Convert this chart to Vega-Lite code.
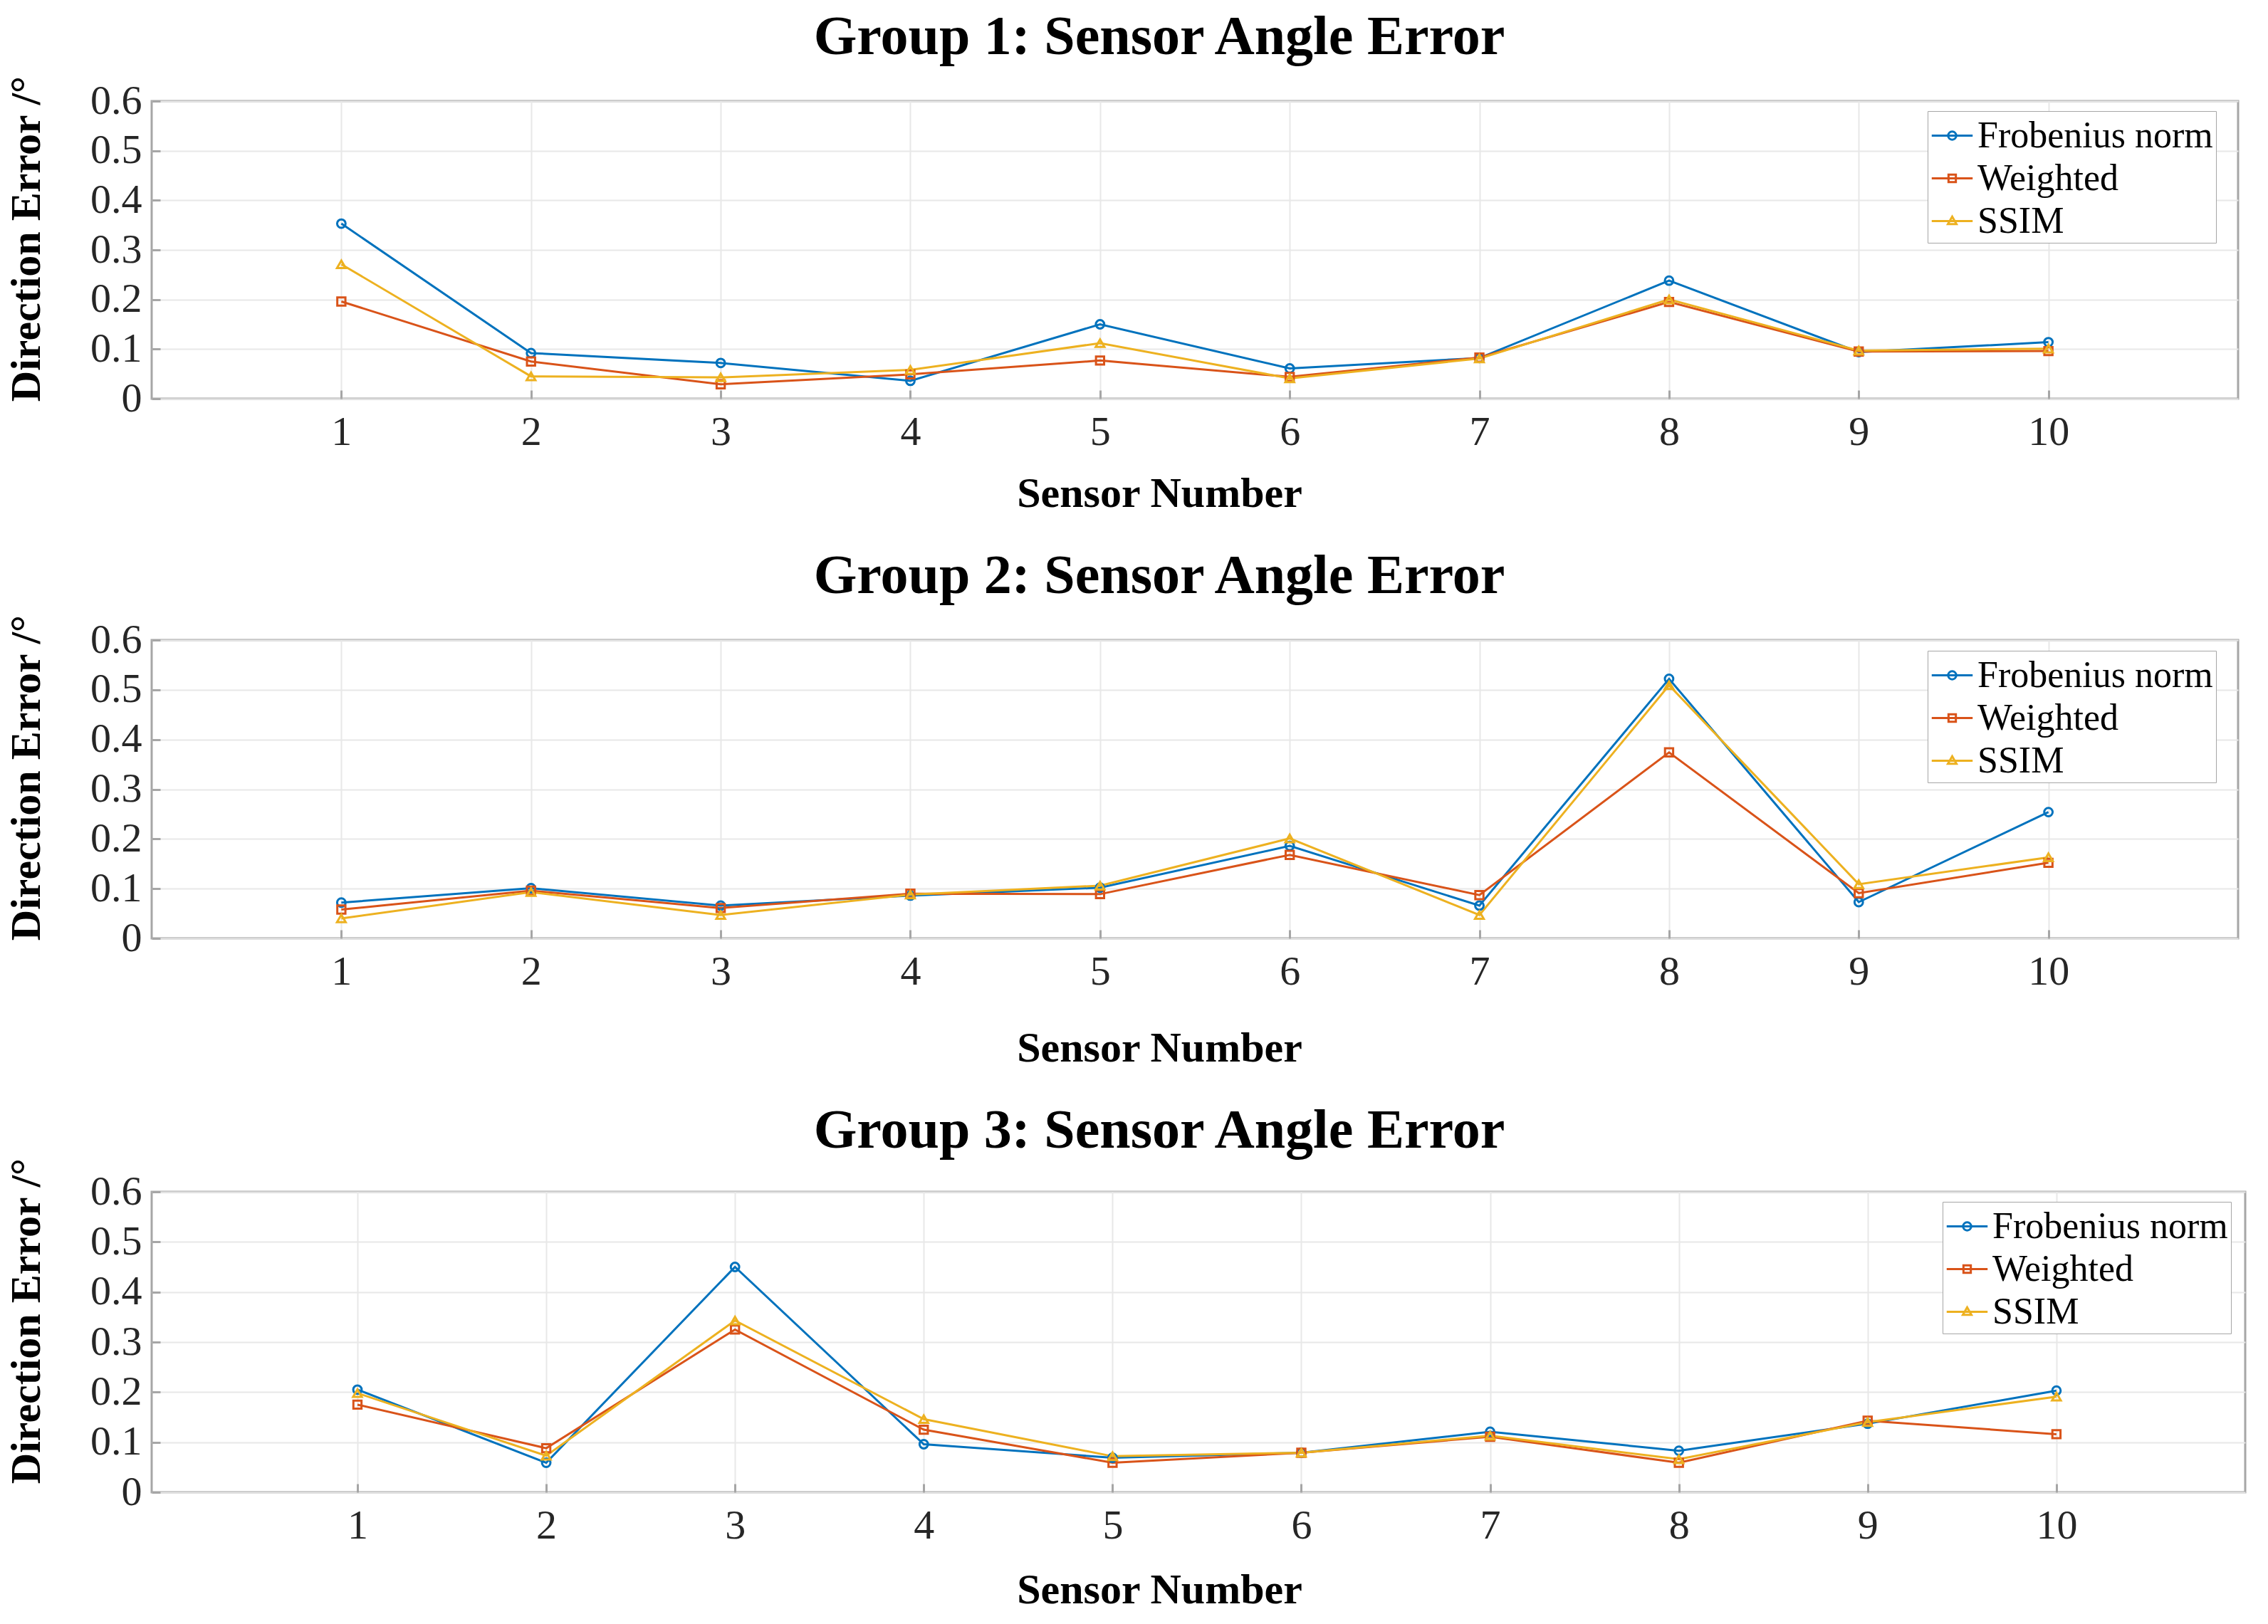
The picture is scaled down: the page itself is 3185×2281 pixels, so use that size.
{
  "$schema": "https://vega.github.io/schema/vega-lite/v6.json",
  "background": "white",
  "padding": {"left": 6, "top": 12, "right": 10, "bottom": 10},
  "spacing": 44,
  "config": {
    "view": {"stroke": "#a6a6a6", "strokeWidth": 3},
    "font": "Liberation Serif",
    "title": {"font": "Liberation Serif", "fontSize": 78, "fontWeight": "bold", "color": "black", "anchor": "middle", "baseline": "bottom"},
    "axis": {"labelFont": "Liberation Serif", "labelFontSize": 58, "labelColor": "#262626", "titleFont": "Liberation Serif", "titleFontSize": 60, "titleFontWeight": "bold", "titleColor": "black", "gridColor": "#e8e8e8", "gridWidth": 2, "domain": false, "tickColor": "#a6a6a6", "tickWidth": 3, "tickSize": -12},
    "legend": {"labelFont": "Liberation Serif", "labelFontSize": 52, "labelColor": "black", "labelLimit": 800, "labelOffset": 5, "symbolSize": 3300, "symbolStrokeWidth": 3, "padding": 4, "rowPadding": 3, "strokeColor": "#a6a6a6", "fillColor": "white"}
  },
  "datasets": {
    "d": [
      {"group": 1, "sensor": 1, "method": "Frobenius norm", "error": 0.353},
      {"group": 1, "sensor": 2, "method": "Frobenius norm", "error": 0.092},
      {"group": 1, "sensor": 3, "method": "Frobenius norm", "error": 0.072},
      {"group": 1, "sensor": 4, "method": "Frobenius norm", "error": 0.036},
      {"group": 1, "sensor": 5, "method": "Frobenius norm", "error": 0.150},
      {"group": 1, "sensor": 6, "method": "Frobenius norm", "error": 0.061},
      {"group": 1, "sensor": 7, "method": "Frobenius norm", "error": 0.082},
      {"group": 1, "sensor": 8, "method": "Frobenius norm", "error": 0.238},
      {"group": 1, "sensor": 9, "method": "Frobenius norm", "error": 0.094},
      {"group": 1, "sensor": 10, "method": "Frobenius norm", "error": 0.114},
      {"group": 1, "sensor": 1, "method": "Weighted", "error": 0.196},
      {"group": 1, "sensor": 2, "method": "Weighted", "error": 0.075},
      {"group": 1, "sensor": 3, "method": "Weighted", "error": 0.029},
      {"group": 1, "sensor": 4, "method": "Weighted", "error": 0.049},
      {"group": 1, "sensor": 5, "method": "Weighted", "error": 0.077},
      {"group": 1, "sensor": 6, "method": "Weighted", "error": 0.044},
      {"group": 1, "sensor": 7, "method": "Weighted", "error": 0.083},
      {"group": 1, "sensor": 8, "method": "Weighted", "error": 0.195},
      {"group": 1, "sensor": 9, "method": "Weighted", "error": 0.095},
      {"group": 1, "sensor": 10, "method": "Weighted", "error": 0.096},
      {"group": 1, "sensor": 1, "method": "SSIM", "error": 0.271},
      {"group": 1, "sensor": 2, "method": "SSIM", "error": 0.045},
      {"group": 1, "sensor": 3, "method": "SSIM", "error": 0.043},
      {"group": 1, "sensor": 4, "method": "SSIM", "error": 0.058},
      {"group": 1, "sensor": 5, "method": "SSIM", "error": 0.112},
      {"group": 1, "sensor": 6, "method": "SSIM", "error": 0.041},
      {"group": 1, "sensor": 7, "method": "SSIM", "error": 0.081},
      {"group": 1, "sensor": 8, "method": "SSIM", "error": 0.200},
      {"group": 1, "sensor": 9, "method": "SSIM", "error": 0.097},
      {"group": 1, "sensor": 10, "method": "SSIM", "error": 0.101},
      {"group": 2, "sensor": 1, "method": "Frobenius norm", "error": 0.072},
      {"group": 2, "sensor": 2, "method": "Frobenius norm", "error": 0.101},
      {"group": 2, "sensor": 3, "method": "Frobenius norm", "error": 0.066},
      {"group": 2, "sensor": 4, "method": "Frobenius norm", "error": 0.086},
      {"group": 2, "sensor": 5, "method": "Frobenius norm", "error": 0.102},
      {"group": 2, "sensor": 6, "method": "Frobenius norm", "error": 0.186},
      {"group": 2, "sensor": 7, "method": "Frobenius norm", "error": 0.066},
      {"group": 2, "sensor": 8, "method": "Frobenius norm", "error": 0.522},
      {"group": 2, "sensor": 9, "method": "Frobenius norm", "error": 0.073},
      {"group": 2, "sensor": 10, "method": "Frobenius norm", "error": 0.254},
      {"group": 2, "sensor": 1, "method": "Weighted", "error": 0.058},
      {"group": 2, "sensor": 2, "method": "Weighted", "error": 0.096},
      {"group": 2, "sensor": 3, "method": "Weighted", "error": 0.061},
      {"group": 2, "sensor": 4, "method": "Weighted", "error": 0.090},
      {"group": 2, "sensor": 5, "method": "Weighted", "error": 0.089},
      {"group": 2, "sensor": 6, "method": "Weighted", "error": 0.168},
      {"group": 2, "sensor": 7, "method": "Weighted", "error": 0.087},
      {"group": 2, "sensor": 8, "method": "Weighted", "error": 0.374},
      {"group": 2, "sensor": 9, "method": "Weighted", "error": 0.091},
      {"group": 2, "sensor": 10, "method": "Weighted", "error": 0.152},
      {"group": 2, "sensor": 1, "method": "SSIM", "error": 0.040},
      {"group": 2, "sensor": 2, "method": "SSIM", "error": 0.093},
      {"group": 2, "sensor": 3, "method": "SSIM", "error": 0.047},
      {"group": 2, "sensor": 4, "method": "SSIM", "error": 0.088},
      {"group": 2, "sensor": 5, "method": "SSIM", "error": 0.106},
      {"group": 2, "sensor": 6, "method": "SSIM", "error": 0.201},
      {"group": 2, "sensor": 7, "method": "SSIM", "error": 0.047},
      {"group": 2, "sensor": 8, "method": "SSIM", "error": 0.509},
      {"group": 2, "sensor": 9, "method": "SSIM", "error": 0.109},
      {"group": 2, "sensor": 10, "method": "SSIM", "error": 0.163},
      {"group": 3, "sensor": 1, "method": "Frobenius norm", "error": 0.205},
      {"group": 3, "sensor": 2, "method": "Frobenius norm", "error": 0.059},
      {"group": 3, "sensor": 3, "method": "Frobenius norm", "error": 0.450},
      {"group": 3, "sensor": 4, "method": "Frobenius norm", "error": 0.096},
      {"group": 3, "sensor": 5, "method": "Frobenius norm", "error": 0.069},
      {"group": 3, "sensor": 6, "method": "Frobenius norm", "error": 0.079},
      {"group": 3, "sensor": 7, "method": "Frobenius norm", "error": 0.121},
      {"group": 3, "sensor": 8, "method": "Frobenius norm", "error": 0.083},
      {"group": 3, "sensor": 9, "method": "Frobenius norm", "error": 0.137},
      {"group": 3, "sensor": 10, "method": "Frobenius norm", "error": 0.203},
      {"group": 3, "sensor": 1, "method": "Weighted", "error": 0.175},
      {"group": 3, "sensor": 2, "method": "Weighted", "error": 0.088},
      {"group": 3, "sensor": 3, "method": "Weighted", "error": 0.325},
      {"group": 3, "sensor": 4, "method": "Weighted", "error": 0.125},
      {"group": 3, "sensor": 5, "method": "Weighted", "error": 0.059},
      {"group": 3, "sensor": 6, "method": "Weighted", "error": 0.079},
      {"group": 3, "sensor": 7, "method": "Weighted", "error": 0.111},
      {"group": 3, "sensor": 8, "method": "Weighted", "error": 0.059},
      {"group": 3, "sensor": 9, "method": "Weighted", "error": 0.143},
      {"group": 3, "sensor": 10, "method": "Weighted", "error": 0.116},
      {"group": 3, "sensor": 1, "method": "SSIM", "error": 0.198},
      {"group": 3, "sensor": 2, "method": "SSIM", "error": 0.073},
      {"group": 3, "sensor": 3, "method": "SSIM", "error": 0.343},
      {"group": 3, "sensor": 4, "method": "SSIM", "error": 0.146},
      {"group": 3, "sensor": 5, "method": "SSIM", "error": 0.072},
      {"group": 3, "sensor": 6, "method": "SSIM", "error": 0.079},
      {"group": 3, "sensor": 7, "method": "SSIM", "error": 0.113},
      {"group": 3, "sensor": 8, "method": "SSIM", "error": 0.066},
      {"group": 3, "sensor": 9, "method": "SSIM", "error": 0.140},
      {"group": 3, "sensor": 10, "method": "SSIM", "error": 0.191}
    ]
  },
  "data": {"name": "d"},
  "vconcat": [
    {
      "title": {"text": "Group 1: Sensor Angle Error", "dx": -50, "offset": 14},
      "width": 2930, "height": 418,
      "transform": [{"filter": {"field": "group", "equal": 1}}],
      "encoding": {
        "x": {"field": "sensor", "type": "quantitative", "scale": {"domain": [0, 11], "nice": false}, "axis": {"values": [1,2,3,4,5,6,7,8,9,10], "title": "Sensor Number", "labelPadding": 30, "titlePadding": 28, "titleX": 1415}},
        "y": {"field": "error", "type": "quantitative", "scale": {"domain": [0, 0.6], "nice": false}, "axis": {"values": [0,0.1,0.2,0.3,0.4,0.5,0.6], "format": ".1~f", "title": "Direction Error /°", "labelPadding": 26, "titlePadding": 58, "titleY": 193}},
        "color": {"field": "method", "type": "nominal", "scale": {"domain": ["Frobenius norm", "Weighted", "SSIM"], "range": ["#0072BD", "#D95319", "#EDB120"]}, "legend": {"title": null, "orient": "none", "legendX": 2494, "legendY": 14}}
      },
      "layer": [
        {"mark": {"type": "line", "strokeWidth": 3}},
        {"transform": [{"filter": {"field": "method", "equal": "Frobenius norm"}}], "mark": {"type": "point", "shape": "circle", "size": 140, "strokeWidth": 3, "filled": false, "opacity": 1}},
        {"transform": [{"filter": {"field": "method", "equal": "Weighted"}}], "mark": {"type": "point", "shape": "square", "size": 130, "strokeWidth": 3, "filled": false, "opacity": 1}},
        {"transform": [{"filter": {"field": "method", "equal": "SSIM"}}], "mark": {"type": "point", "shape": "triangle-up", "size": 150, "strokeWidth": 3, "filled": false, "opacity": 1}},
        {"transform": [{"filter": "datum.sensor > 100"}], "mark": {"type": "point", "filled": false, "opacity": 1, "strokeWidth": 3},
         "encoding": {"shape": {"field": "method", "type": "nominal", "scale": {"domain": ["Frobenius norm", "Weighted", "SSIM"], "range": ["M-1,0H1M0.2,0A0.2,0.2,0,1,1,-0.2,0A0.2,0.2,0,1,1,0.2,0Z", "M-1,0H1M-0.18,-0.18H0.18V0.18H-0.18Z", "M-1,0H1M0,-0.22L0.21,0.15H-0.21Z"]}, "legend": {"title": null, "orient": "none", "legendX": 2494, "legendY": 14}}}}
      ]
    },
    {
      "title": {"text": "Group 2: Sensor Angle Error", "dx": -50, "offset": 14},
      "width": 2930, "height": 419,
      "transform": [{"filter": {"field": "group", "equal": 2}}],
      "encoding": {
        "x": {"field": "sensor", "type": "quantitative", "scale": {"domain": [0, 11], "nice": false}, "axis": {"values": [1,2,3,4,5,6,7,8,9,10], "title": "Sensor Number", "labelPadding": 30, "titlePadding": 49, "titleX": 1415}},
        "y": {"field": "error", "type": "quantitative", "scale": {"domain": [0, 0.6], "nice": false}, "axis": {"values": [0,0.1,0.2,0.3,0.4,0.5,0.6], "format": ".1~f", "title": "Direction Error /°", "labelPadding": 26, "titlePadding": 58, "titleY": 193}},
        "color": {"field": "method", "type": "nominal", "scale": {"domain": ["Frobenius norm", "Weighted", "SSIM"], "range": ["#0072BD", "#D95319", "#EDB120"]}, "legend": {"title": null, "orient": "none", "legendX": 2494, "legendY": 15}}
      },
      "layer": [
        {"mark": {"type": "line", "strokeWidth": 3}},
        {"transform": [{"filter": {"field": "method", "equal": "Frobenius norm"}}], "mark": {"type": "point", "shape": "circle", "size": 140, "strokeWidth": 3, "filled": false, "opacity": 1}},
        {"transform": [{"filter": {"field": "method", "equal": "Weighted"}}], "mark": {"type": "point", "shape": "square", "size": 130, "strokeWidth": 3, "filled": false, "opacity": 1}},
        {"transform": [{"filter": {"field": "method", "equal": "SSIM"}}], "mark": {"type": "point", "shape": "triangle-up", "size": 150, "strokeWidth": 3, "filled": false, "opacity": 1}},
        {"transform": [{"filter": "datum.sensor > 100"}], "mark": {"type": "point", "filled": false, "opacity": 1, "strokeWidth": 3},
         "encoding": {"shape": {"field": "method", "type": "nominal", "scale": {"domain": ["Frobenius norm", "Weighted", "SSIM"], "range": ["M-1,0H1M0.2,0A0.2,0.2,0,1,1,-0.2,0A0.2,0.2,0,1,1,0.2,0Z", "M-1,0H1M-0.18,-0.18H0.18V0.18H-0.18Z", "M-1,0H1M0,-0.22L0.21,0.15H-0.21Z"]}, "legend": {"title": null, "orient": "none", "legendX": 2494, "legendY": 15}}}}
      ]
    },
    {
      "title": {"text": "Group 3: Sensor Angle Error", "dx": -55, "offset": -2},
      "width": 2940, "height": 422,
      "transform": [{"filter": {"field": "group", "equal": 3}}],
      "encoding": {
        "x": {"field": "sensor", "type": "quantitative", "scale": {"domain": [-0.09, 11], "nice": false}, "axis": {"values": [1,2,3,4,5,6,7,8,9,10], "title": "Sensor Number", "labelPadding": 30, "titlePadding": 32, "titleX": 1415}},
        "y": {"field": "error", "type": "quantitative", "scale": {"domain": [0, 0.6], "nice": false}, "axis": {"values": [0,0.1,0.2,0.3,0.4,0.5,0.6], "format": ".1~f", "title": "Direction Error /°", "labelPadding": 26, "titlePadding": 58, "titleY": 181}},
        "color": {"field": "method", "type": "nominal", "scale": {"domain": ["Frobenius norm", "Weighted", "SSIM"], "range": ["#0072BD", "#D95319", "#EDB120"]}, "legend": {"title": null, "orient": "none", "legendX": 2515, "legendY": 14}}
      },
      "layer": [
        {"mark": {"type": "line", "strokeWidth": 3}},
        {"transform": [{"filter": {"field": "method", "equal": "Frobenius norm"}}], "mark": {"type": "point", "shape": "circle", "size": 140, "strokeWidth": 3, "filled": false, "opacity": 1}},
        {"transform": [{"filter": {"field": "method", "equal": "Weighted"}}], "mark": {"type": "point", "shape": "square", "size": 130, "strokeWidth": 3, "filled": false, "opacity": 1}},
        {"transform": [{"filter": {"field": "method", "equal": "SSIM"}}], "mark": {"type": "point", "shape": "triangle-up", "size": 150, "strokeWidth": 3, "filled": false, "opacity": 1}},
        {"transform": [{"filter": "datum.sensor > 100"}], "mark": {"type": "point", "filled": false, "opacity": 1, "strokeWidth": 3},
         "encoding": {"shape": {"field": "method", "type": "nominal", "scale": {"domain": ["Frobenius norm", "Weighted", "SSIM"], "range": ["M-1,0H1M0.2,0A0.2,0.2,0,1,1,-0.2,0A0.2,0.2,0,1,1,0.2,0Z", "M-1,0H1M-0.18,-0.18H0.18V0.18H-0.18Z", "M-1,0H1M0,-0.22L0.21,0.15H-0.21Z"]}, "legend": {"title": null, "orient": "none", "legendX": 2515, "legendY": 14}}}}
      ]
    }
  ],
  "resolve": {"scale": {"color": "independent", "shape": "independent"}, "legend": {"color": "independent", "shape": "independent"}}
}
